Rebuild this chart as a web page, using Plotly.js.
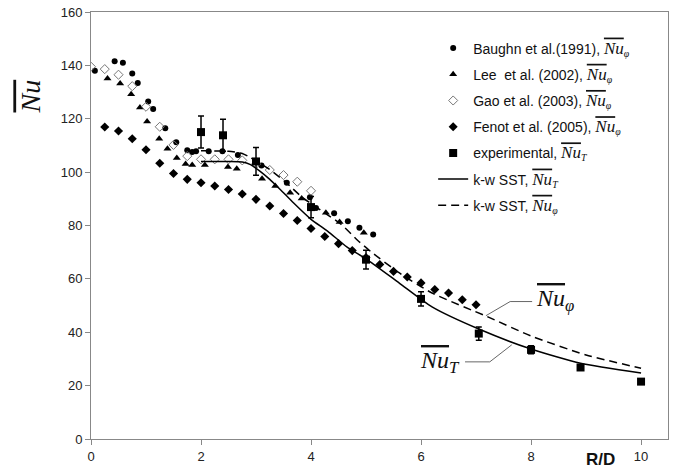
<!DOCTYPE html>
<html><head><meta charset="utf-8">
<script src="https://cdn.plot.ly/plotly-3.0.1.min.js"></script>
<style>body{margin:0;background:#fff}#c{width:674px;height:472px}</style>
</head><body><div id="c"></div>
<script>
// Baughn et al. (1991)
const baughnX = [0.07,0.43,0.58,0.75,0.85,1.04,1.13,1.35,1.55,1.75,1.84,1.91,2.14,2.39,2.67,3.1,3.56,3.98,4.09,4.42,4.67,4.88,5.13];
const baughnY = [138,141.5,141,137,133.4,126.5,123.7,116.4,111.2,108.2,107.5,107.8,107.8,107.8,106.4,102.5,96,90.6,86.6,84.6,81.6,79.2,76.6];
// Lee et al. (2002)
const leeX = [0.3,0.53,0.73,0.89,1.02,1.24,1.39,1.56,1.72,1.84,2.07,2.49,2.65,3.11,3.35,3.62,3.83,4.27,4.52,4.96];
const leeY = [135.1,133.2,129.2,124.2,119,112.5,108.8,105.3,103,102.7,102.7,101.9,101.3,97.5,94.8,92.3,90.1,84.8,81.3,77.3];
// Gao et al. (2003)
const gaoX = [0,0.25,0.5,0.75,1.0,1.25,1.5,1.75,2.0,2.25,2.5,2.75,3.0,3.25,3.5,3.75,4.0];
const gaoY = [139.5,138.6,136.5,132.2,124.5,117,110.2,106,104.8,104.8,104.8,104.4,103,100.8,98.9,96.4,93];
// Fenot et al. (2005)
const fenotX = [0.25,0.5,0.75,1.0,1.25,1.5,1.75,2.0,2.25,2.5,2.75,3.0,3.25,3.5,3.75,4.0,4.25,4.5,4.75,5.0,5.25,5.5,5.75,6.0,6.25,6.5,6.75,7.0];
const fenotY = [116.9,115.4,112.5,108.4,103.3,99.5,97.3,96,94.8,93.5,91.8,89.8,87.3,84.5,81.9,78.9,75.9,73.2,70.6,68,65.4,62.8,60.7,58.5,56,54.7,52.2,50.3];
// experimental
const expX = [2,2.4,3,4,5,6,7.05,8,8.9,10];
const expY = [115,113.8,104,86.9,67.2,52.5,39.5,33.4,26.8,21.5];
const expErr = [6,6,5.2,4,3.5,2.7,2.5,1.5,0,0];
// k-w SST, Nu_T
const sstTX = [2.0,2.5,2.75,2.9,3.07,3.25,3.44,3.68,4.0,4.3,4.65,5.0,5.6,6.2,7.05,8.0,8.9,10];
const sstTY = [104,104,103.8,102.8,100.4,97.3,93.5,88.5,82.3,77.9,72,67.5,58.5,49.5,41.2,33.7,28.4,24.7];
// k-w SST, Nu_phi
const sstPX = [2.0,2.5,2.75,2.9,3.25,3.55,3.85,4.3,4.55,4.85,5.1,5.6,6.2,7.2,8.0,9.0,10];
const sstPY = [108,107.8,107,105.4,101,96,90.4,84,80.4,74.4,70,62.3,54.7,45.9,38.6,31.5,26.5];
const xTicks = [0,2,4,6,8,10];
const yTicks = [0,20,40,60,80,100,120,140,160];

const SERIF = "Liberation Serif, Times New Roman, serif";
const nu = (sub) => '<span style="font-family:' + SERIF + ';font-style:italic;font-size:17px;text-decoration:overline">Nu</span><span style="font-family:' + SERIF + ';font-style:italic;font-size:14px"><sub>' + sub + '</sub></span>';

const traces = [
  {x: baughnX, y: baughnY, mode:'markers', name:'Baughn et al.(1991), ' + nu('φ'), marker:{symbol:'circle', size:6, color:'#000'}},
  {x: leeX, y: leeY, mode:'markers', name:'Lee  et al. (2002), ' + nu('φ'), marker:{symbol:'triangle-up', size:7, color:'#000'}},
  {x: gaoX, y: gaoY, mode:'markers', name:'Gao et al. (2003), ' + nu('φ'), marker:{symbol:'diamond-open', size:7, color:'#777', line:{width:1, color:'#777'}}},
  {x: fenotX, y: fenotY, mode:'markers', name:'Fenot et al. (2005), ' + nu('φ'), marker:{symbol:'diamond', size:7, color:'#000'}},
  {x: expX, y: expY, mode:'markers', name:'experimental, ' + nu('T'), marker:{symbol:'square', size:8, color:'#000'},
   error_y:{type:'data', array: expErr, visible:true, color:'#000', thickness:1.5, width:3}},
  {x: sstTX, y: sstTY, mode:'lines', name:'k-w SST, ' + nu('T'), line:{color:'#000', width:1.5, shape:'spline', smoothing:0.6}},
  {x: sstPX, y: sstPY, mode:'lines', name:'k-w SST, ' + nu('φ'), line:{color:'#000', width:1.5, dash:'8px,5px', shape:'spline', smoothing:0.6}}
];
traces.forEach((t,i)=>{ t.legendgroup = 'g'+i; });

const axisCommon = {showline:true, linecolor:'#888', linewidth:1, mirror:true, ticks:'outside', ticklen:5, tickcolor:'#888', showgrid:false, zeroline:false,
  tickfont:{family:'Liberation Sans, Arial, sans-serif', size:13, color:'#222'}};

const layout = {
  width:674, height:472,
  margin:{l:91, r:6, t:12, b:33},
  paper_bgcolor:'#fff', plot_bgcolor:'#fff',
  showlegend:true,
  legend:{x:0.593, y:0.952, xanchor:'left', yanchor:'top', bgcolor:'rgba(0,0,0,0)', tracegroupgap:5,
    font:{family:'Liberation Sans, Arial, sans-serif', size:14, color:'#111'}},
  xaxis:Object.assign({}, axisCommon, {range:[0,10.49], tickvals:xTicks, ticktext:xTicks.map(String)}),
  yaxis:Object.assign({}, axisCommon, {range:[0,160], tickvals:yTicks, ticktext:yTicks.map(String)}),
  annotations:[
    {xref:'paper', yref:'y', x:-0.105, y:128.5, text:'<i><span style="text-decoration:overline">Nu</span></i>', textangle:-90, showarrow:false,
     font:{family:SERIF, size:28, color:'#111'}, xanchor:'center', yanchor:'middle'},
    {xref:'x', yref:'paper', x:9.27, y:-0.022, text:'<b>R/D</b>', showarrow:false, yanchor:'top',
     font:{family:'Liberation Sans, Arial, sans-serif', size:17, color:'#111'}},
    {xref:'x', yref:'y', x:8.05, y:52.2, text:'<i><span style="text-decoration:overline">Nu</span></i><sub><i>φ</i></sub>', showarrow:false, xanchor:'left',
     font:{family:SERIF, size:24, color:'#111'}},
    {xref:'x', yref:'y', x:6.75, y:28.9, text:'<i><span style="text-decoration:overline">Nu</span></i><sub><i>T</i></sub>', showarrow:false, xanchor:'right',
     font:{family:SERIF, size:24, color:'#111'}}
  ],
  shapes:[
    {type:'path', xref:'x', yref:'y', path:'M7.18,46.2 L7.62,51.5 L8.02,51.5', line:{color:'#666', width:1}},
    {type:'path', xref:'x', yref:'y', path:'M6.8,28.9 L7.25,28.9 L7.65,35.3', line:{color:'#666', width:1}}
  ]
};
Plotly.newPlot('c', traces, layout, {displayModeBar:false, staticPlot:true});
</script></body></html>
